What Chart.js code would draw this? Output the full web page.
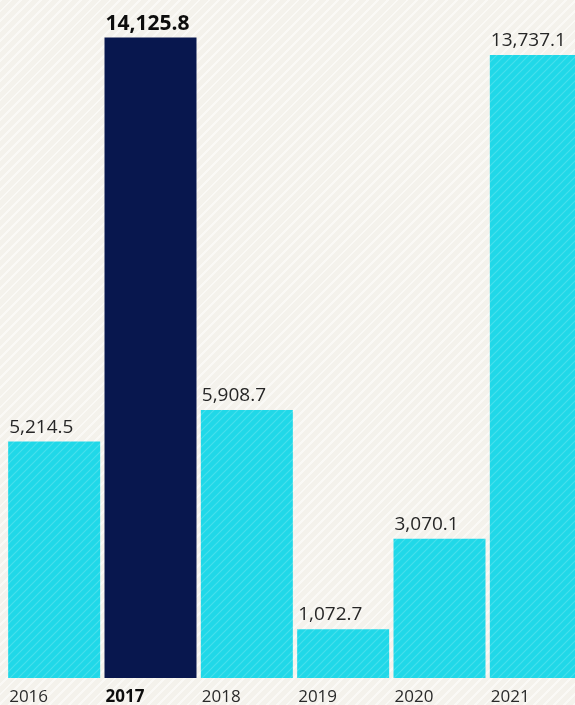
<!DOCTYPE html>
<html>
<head>
<meta charset="utf-8">
<script src="https://cdn.jsdelivr.net/npm/chart.js@4.4.1/dist/chart.umd.min.js"></script>
<style>
  html, body {
    margin: 0;
    padding: 0;
    width: 575px;
    height: 705px;
    overflow: hidden;
    background-color: #f4f2ec;
    background-image: repeating-linear-gradient(-45deg, rgba(255,255,255,0.55) 0px, rgba(255,255,255,0.55) 2px, rgba(0,0,0,0) 2px, rgba(0,0,0,0) 7px);
  }
  #wrap { position: absolute; left: 0; top: 0; width: 584px; height: 705px; }
</style>
</head>
<body>
<div id="wrap"><canvas id="chart"></canvas></div>
<script>
// data
var years = ['2016', '2017', '2018', '2019', '2020', '2021'];
var values = [5214.5, 14125.8, 5908.7, 1072.7, 3070.1, 13737.1];
var valueLabels = ['5,214.5', '14,125.8', '5,908.7', '1,072.7', '3,070.1', '13,737.1'];
var highlight = '2017';

function stripes(base, line) {
    var c = document.createElement('canvas');
    c.width = 8; c.height = 8;
    var g = c.getContext('2d');
    g.fillStyle = base;
    g.fillRect(0, 0, 8, 8);
    g.strokeStyle = line;
    g.lineWidth = 1.2;
    g.beginPath();
    g.moveTo(0, 8); g.lineTo(8, 0);
    g.moveTo(-4, 4); g.lineTo(4, -4);
    g.moveTo(4, 12); g.lineTo(12, 4);
    g.stroke();
    return g.createPattern(c, 'repeat');
}

var cyan = stripes('rgb(32, 216, 232)', 'rgba(110, 232, 242, 0.5)');
var navy = 'rgb(8, 23, 78)';

// labels above bars and years below, left aligned on each bar
var barText = {
    id: 'barText',
    afterDatasetsDraw: function (chart) {
        var ctx = chart.ctx;
        var meta = chart.getDatasetMeta(0);
        ctx.save();
        ctx.textAlign = 'left';
        ctx.textBaseline = 'alphabetic';
        meta.data.forEach(function (bar, i) {
            var left = bar.x - bar.width / 2 + 1;
            var bold = years[i] === highlight;
            ctx.fillStyle = bold ? '#0d0d0d' : '#262626';
            ctx.font = bold ? 'bold 21px "Open Sans"' : '19px "Open Sans"';
            ctx.fillText(valueLabels[i], left, bar.y - (bold ? 7 : 9));
            ctx.fillStyle = bold ? '#0d0d0d' : '#2a2a2a';
            ctx.font = (bold ? 'bold ' : '') + '17px "Open Sans"';
            ctx.fillText(years[i], left, 701.5);
        });
        ctx.restore();
    }
};

new Chart(document.getElementById('chart').getContext('2d'), {
    type: 'bar',
    data: {
        labels: years,
        datasets: [{
            data: values,
            backgroundColor: years.map(function (y) { return y === highlight ? navy : cyan; }),
            borderWidth: 0,
            categoryPercentage: 1,
            barPercentage: 0.955
        }]
    },
    options: {
        responsive: true,
        maintainAspectRatio: false,
        animation: false,
        layout: { padding: { left: 6, right: 0, top: 0, bottom: 27 } },
        plugins: {
            legend: { display: false },
            tooltip: { enabled: false }
        },
        scales: {
            x: { display: false },
            y: { display: false, min: 0, max: 14950 }
        }
    },
    plugins: [barText]
});
</script>
</body>
</html>
